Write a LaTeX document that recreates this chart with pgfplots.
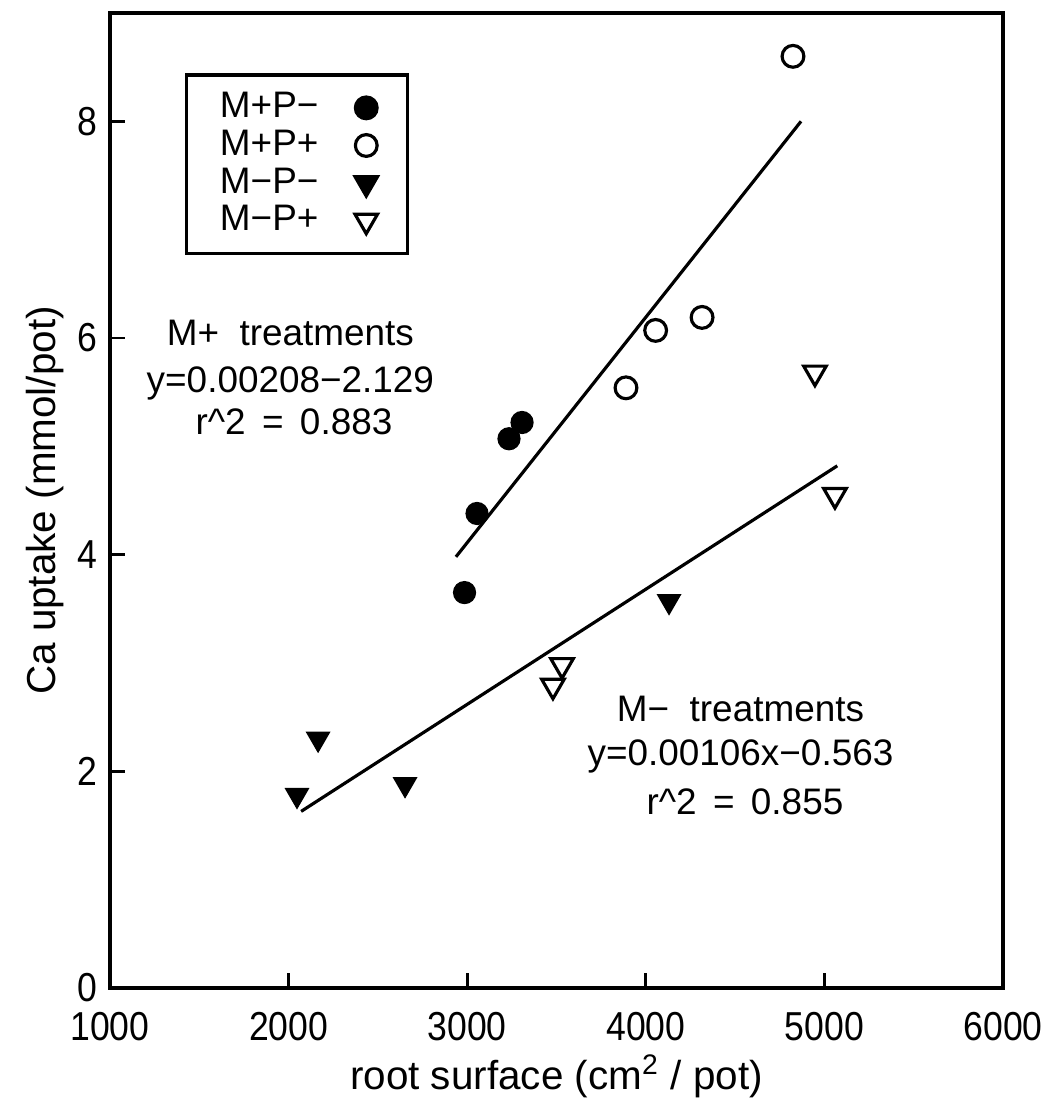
\documentclass[border=0pt]{standalone}
\usepackage{pgfplots}
\pgfplotsset{compat=1.18}
\usepackage{fontspec}
\setmainfont{Liberation Sans}
\newfontfamily\tickfont[FakeStretch=0.88]{Liberation Sans}
\pgfplotsset{shortmark/.style={legend image code/.code={\draw[##1, mark repeat=2, mark phase=2] plot coordinates {(0cm,0cm) (0.15cm,0cm) (0.3cm,0cm)};}}}
\begin{document}
\begin{tikzpicture}
\begin{axis}[
  scale only axis,
  width=8.93cm, height=9.75cm,
  xmin=1000, xmax=6000, ymin=0, ymax=9,
  xtick={1000,2000,3000,4000,5000,6000},
  ytick={0,2,4,6,8},
  xtick pos=bottom, ytick pos=left,
  tick align=inside,
  major tick length=0.15cm,
  axis line style={line width=0.9pt},
  every tick/.style={line width=0.8pt, black},
  /pgf/number format/assume math mode=true,
  /pgf/number format/1000 sep={},
  tick label style={font=\tickfont\fontsize{11.5}{13}\selectfont},
  xticklabel style={yshift=-3.5pt},
  label style={font=\fontsize{11.5}{13}\selectfont},
  xlabel={root surface (cm\textsuperscript{2} / pot)},
  ylabel={Ca uptake (mmol/pot)},
  xlabel style={inner sep=0pt, yshift=-0.3pt},
  ylabel style={yshift=-3pt},
  legend plot pos=right,
  legend cell align=left,
  legend style={at={(0.084,0.938)}, anchor=north west, draw=black, line width=0.9pt,
    font=\fontsize{10.5}{12}\selectfont, row sep=0pt,
    nodes={inner sep=1pt, text height=7.2pt, text depth=1.5pt},
    inner xsep=8.5pt, inner ysep=4pt,
    /tikz/every odd column/.append style={column sep=9.4pt}},
]
\addplot[only marks, mark=*, mark size=3.1pt, black, shortmark] coordinates {
 (2985,3.65) (3055,4.38) (3234,5.07) (3307,5.22)};
\addlegendentry{M+P−}
\addplot[only marks, mark=o, mark size=3.1pt, black, mark options={line width=0.9pt}, shortmark] coordinates {
 (3889,5.54) (4055,6.07) (4315,6.19) (4824,8.60)};
\addlegendentry{M+P+}
\addplot[only marks, mark=triangle*, mark size=3.7pt, black, mark options={rotate=180}, shortmark] coordinates {
 (2047,1.78) (2165,2.30) (2652,1.88) (4130,3.57)};
\addlegendentry{M−P−}
\addplot[only marks, mark=triangle, mark size=3.7pt, black, mark options={rotate=180, line width=0.9pt}, shortmark] coordinates {
 (3480,2.79) (3531,2.98) (4947,5.68) (5059,4.55)};
\addlegendentry{M−P+}
\addplot[black, line width=0.9pt, forget plot] coordinates {(2937,3.98) (4869,8.00)};
\addplot[black, line width=0.9pt, forget plot] coordinates {(2070,1.63) (5072,4.82)};
\node[font=\fontsize{10.5}{12}\selectfont] at (axis cs:2010,6.05) {M+\ \ treatments};
\node[font=\fontsize{10.5}{12}\selectfont] at (axis cs:2010,5.58) {y=0.00208−2.129};
\node[font=\fontsize{10.5}{12}\selectfont] at (axis cs:2030,5.23) {r\textasciicircum 2 \,= \,0.883};
\node[font=\fontsize{10.5}{12}\selectfont] at (axis cs:4530,2.58) {M−\ \ treatments};
\node[font=\fontsize{10.5}{12}\selectfont] at (axis cs:4530,2.14) {y=0.00106x−0.563};
\node[font=\fontsize{10.5}{12}\selectfont] at (axis cs:4555,1.72) {r\textasciicircum 2 \,= \,0.855};
\end{axis}
\path (current axis.north west) ++(-1.10cm,0.13cm);
\path (current axis.south east) ++(0.40cm,-1.14cm);
\end{tikzpicture}
\end{document}
